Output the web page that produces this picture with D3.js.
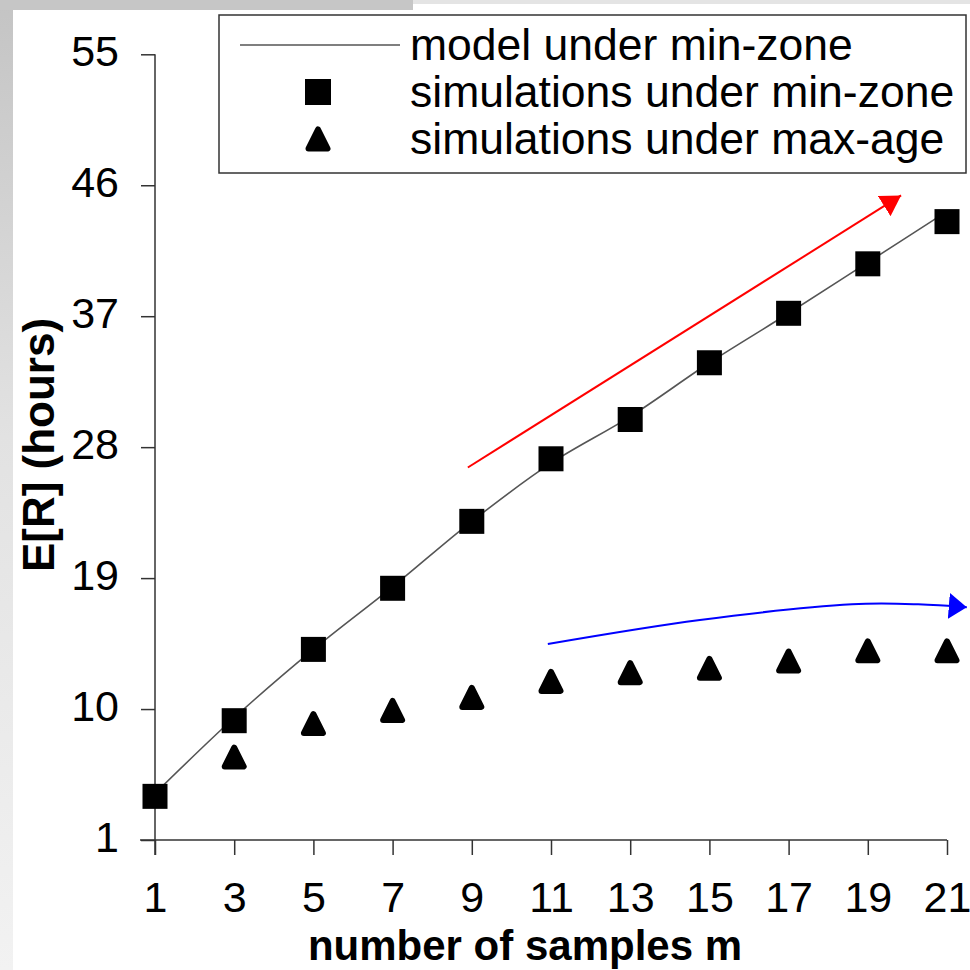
<!DOCTYPE html>
<html>
<head>
<meta charset="utf-8">
<script src="https://cdn.jsdelivr.net/npm/d3@7"></script>
<style>
  body { margin: 0; background: #fff; }
  svg { display: block; font-family: "Liberation Sans", Arial, sans-serif; }
</style>
</head>
<body>
<svg width="970" height="970"></svg>
<script>
// data
const samples = [1, 3, 5, 7, 9, 11, 13, 15, 17, 19, 21];
const modelMinZone = [4.2, 9.4, 14.1, 18.4, 22.9, 26.9, 30.1, 33.8, 37.2, 40.7, 44.2];
const simMinZone = [4.0, 9.2, 14.1, 18.3, 22.9, 27.2, 29.9, 33.8, 37.2, 40.6, 43.5];
const simMaxAgeX = [3, 5, 7, 9, 11, 13, 15, 17, 19, 21];
const simMaxAge = [6.7, 9.0, 9.9, 10.8, 11.9, 12.5, 12.8, 13.3, 14.0, 14.0];
const yTicks = [1, 10, 19, 28, 37, 46, 55];
const legendLabels = ['model under min-zone', 'simulations under min-zone', 'simulations under max-age'];
// trend arrows, in data units
const redArrow = [[8.9, 26.6], [19.84, 45.3]];
const blueArrow = [[10.92, 14.47], [14.76, 16.12], [18.6, 17.2], [20.27, 17.2], [21.5, 17.0]];

const svg = d3.select('svg');

// grey frame left over from the slide
const defs = svg.append('defs');
const lg = defs.append('linearGradient').attr('id', 'leftEdge')
    .attr('x1', 0).attr('y1', 0).attr('x2', 0).attr('y2', 1);
lg.append('stop').attr('offset', '0%').attr('stop-color', '#c4c4c4');
lg.append('stop').attr('offset', '45%').attr('stop-color', '#e2e2e2');
lg.append('stop').attr('offset', '100%').attr('stop-color', '#f2f2f2');
svg.append('rect').attr('x', 0).attr('y', 0).attr('width', 13).attr('height', 970).attr('fill', 'url(#leftEdge)');
svg.append('rect').attr('x', 0).attr('y', 0).attr('width', 413).attr('height', 10).attr('fill', '#c6c6c6');
svg.append('rect').attr('x', 413).attr('y', 0).attr('width', 557).attr('height', 4).attr('fill', '#e4e4e4');

const x = d3.scaleLinear().domain([1, 21]).range([155, 947]);
const y = d3.scaleLinear().domain([1, 55]).range([840, 54.3]);

const axisColor = '#333';
const fontSize = 43;

// y axis
const yAxisG = svg.append('g')
    .attr('transform', `translate(${x(1)},0)`)
    .call(d3.axisLeft(y).tickValues(yTicks).tickSize(14).tickSizeOuter(0).tickPadding(22));
yAxisG.select('.domain').attr('stroke', axisColor).attr('stroke-width', 1.5)
    .attr('d', `M0,${y(55)}V${y(1) + 15}`);
yAxisG.selectAll('.tick line').attr('stroke', axisColor).attr('stroke-width', 1.5);
yAxisG.selectAll('.tick text')
    .attr('font-size', fontSize).attr('font-family', 'Liberation Sans, Arial, sans-serif')
    .attr('fill', '#000').attr('dy', 11);

// x axis
const xAxisG = svg.append('g')
    .attr('transform', `translate(0,${y(1)})`)
    .call(d3.axisBottom(x).tickValues(samples).tickSize(15).tickSizeOuter(0));
xAxisG.select('.domain').attr('stroke', axisColor).attr('stroke-width', 1.5)
    .attr('d', `M${x(1) - 15},0H${x(21)}`);
xAxisG.selectAll('.tick line').attr('stroke', axisColor).attr('stroke-width', 1.5);
xAxisG.selectAll('.tick text')
    .attr('font-size', fontSize).attr('font-family', 'Liberation Sans, Arial, sans-serif')
    .attr('fill', '#000').attr('y', 72).attr('dy', 0);

// axis titles
svg.append('text')
    .attr('x', 525).attr('y', 960)
    .attr('text-anchor', 'middle')
    .attr('font-size', 42).attr('font-weight', 'bold')
    .text('number of samples m');

svg.append('text')
    .attr('transform', 'translate(54,445) rotate(-90)')
    .attr('text-anchor', 'middle')
    .attr('font-size', 44).attr('font-weight', 'bold')
    .text('E[R] (hours)');

// model curve
const line = d3.line()
    .x((d, i) => x(samples[i]))
    .y(d => y(d))
    .curve(d3.curveCatmullRom);
svg.append('path')
    .datum(modelMinZone)
    .attr('d', line)
    .attr('fill', 'none')
    .attr('stroke', '#555')
    .attr('stroke-width', 1.6);

// squares
const sq = 25;
svg.selectAll('.square').data(simMinZone)
  .enter().append('rect')
    .attr('class', 'square')
    .attr('x', (d, i) => x(samples[i]) - sq / 2)
    .attr('y', d => y(d) - sq / 2)
    .attr('width', sq).attr('height', sq)
    .attr('fill', '#000');

// rounded triangles
const tri = (w, h) => `M0,${-h / 2}L${w / 2},${h / 2}L${-w / 2},${h / 2}Z`;
svg.selectAll('.tri').data(simMaxAge)
  .enter().append('path')
    .attr('class', 'tri')
    .attr('transform', (d, i) => `translate(${x(simMaxAgeX[i])},${y(d)})`)
    .attr('d', tri(19, 19))
    .attr('fill', '#000')
    .attr('stroke', '#000')
    .attr('stroke-width', 6)
    .attr('stroke-linejoin', 'round');

// arrow heads
defs.append('marker').attr('id', 'headRed')
    .attr('markerUnits', 'userSpaceOnUse')
    .attr('viewBox', '0 0 20 24').attr('refX', 20).attr('refY', 12)
    .attr('markerWidth', 20).attr('markerHeight', 24)
    .attr('orient', 'auto')
  .append('path').attr('d', 'M0,0L20,12L0,24Z').attr('fill', '#ff0000');
defs.append('marker').attr('id', 'headBlue')
    .attr('markerUnits', 'userSpaceOnUse')
    .attr('viewBox', '0 0 18 26').attr('refX', 18).attr('refY', 13)
    .attr('markerWidth', 18).attr('markerHeight', 26)
    .attr('orient', 'auto')
  .append('path').attr('d', 'M0,0L18,13L0,26Z').attr('fill', '#0000ff');

const arrowLine = d3.line().x(d => x(d[0])).y(d => y(d[1]));
svg.append('path')
    .attr('d', arrowLine(redArrow))
    .attr('fill', 'none').attr('stroke', '#ff0000').attr('stroke-width', 2)
    .attr('marker-end', 'url(#headRed)');
svg.append('path')
    .attr('d', arrowLine.curve(d3.curveCatmullRom)(blueArrow))
    .attr('fill', 'none').attr('stroke', '#0000ff').attr('stroke-width', 2)
    .attr('marker-end', 'url(#headBlue)');

// legend
const legend = svg.append('g');
legend.append('rect')
    .attr('x', 219).attr('y', 15).attr('width', 747).attr('height', 158)
    .attr('fill', '#fff').attr('stroke', axisColor).attr('stroke-width', 1.5);
const rowY = [45, 92, 139];
legend.append('line')
    .attr('x1', 240).attr('x2', 400).attr('y1', rowY[0]).attr('y2', rowY[0])
    .attr('stroke', '#000').attr('stroke-width', 1.2);
legend.append('rect')
    .attr('x', 318 - 13).attr('y', rowY[1] - 13).attr('width', 26).attr('height', 26)
    .attr('fill', '#000');
legend.append('path')
    .attr('transform', `translate(318,${rowY[2]})`)
    .attr('d', tri(19, 19))
    .attr('fill', '#000').attr('stroke', '#000').attr('stroke-width', 6)
    .attr('stroke-linejoin', 'round');
legend.selectAll('.label').data(legendLabels)
  .enter().append('text')
    .attr('class', 'label')
    .attr('x', 410)
    .attr('y', (d, i) => rowY[i] + 15)
    .attr('font-size', 44.5)
    .text(d => d);
</script>
</body>
</html>
